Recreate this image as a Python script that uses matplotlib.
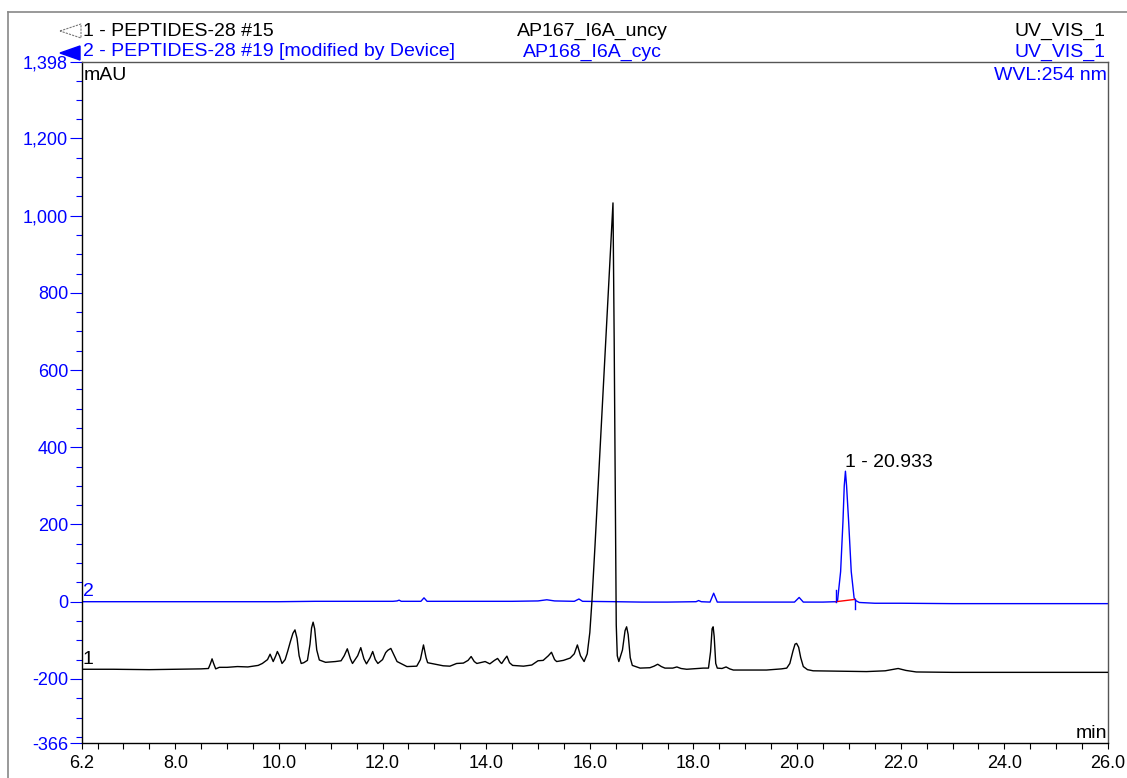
import matplotlib.pyplot as plt
from matplotlib.lines import Line2D
from matplotlib.patches import Polygon
from matplotlib.ticker import FixedLocator, MultipleLocator

plt.rcParams['font.family'] = ['Liberation Sans', 'DejaVu Sans']

# trace 1: AP167_I6A_uncy, retention time (min) / absorbance (mAU)
t_uncy = [6.2, 6.8, 7.5, 8.0, 8.5, 8.64, 8.68, 8.71, 8.74, 8.78, 8.85, 9.0, 9.2, 9.4,
          9.6, 9.68, 9.78, 9.83, 9.89, 9.94, 9.97, 10.01, 10.06, 10.12, 10.17, 10.22,
          10.27, 10.31, 10.35, 10.39, 10.43, 10.48, 10.55, 10.60, 10.63, 10.66, 10.69,
          10.73, 10.78, 10.9, 11.09, 11.2, 11.26, 11.32, 11.38, 11.42, 11.52, 11.58,
          11.64, 11.69, 11.76, 11.81, 11.86, 11.91, 12.0, 12.06, 12.1, 12.16, 12.22,
          12.28, 12.47, 12.66, 12.73, 12.79, 12.84, 12.87, 12.98, 13.17, 13.3, 13.43,
          13.56, 13.65, 13.71, 13.77, 13.82, 13.98, 14.07, 14.16, 14.22, 14.28, 14.30,
          14.35, 14.40, 14.45, 14.51, 14.72, 14.88, 15.0, 15.1, 15.2, 15.26, 15.32,
          15.36, 15.49, 15.62, 15.70, 15.76, 15.82, 15.89, 15.95, 16.00, 16.04, 16.10,
          16.20, 16.30, 16.40, 16.447, 16.47, 16.49, 16.51, 16.53, 16.56, 16.63, 16.68,
          16.71, 16.74, 16.78, 16.82, 16.97, 17.16, 17.24, 17.31, 17.38, 17.45, 17.6,
          17.68, 17.76, 17.87, 18.19, 18.29, 18.33, 18.36, 18.38, 18.40, 18.43, 18.46,
          18.55, 18.63, 18.70, 18.77, 19.41, 19.70, 19.80, 19.86, 19.92, 19.96, 19.99,
          20.03, 20.07, 20.12, 20.2, 20.31, 20.8, 21.34, 21.7, 21.86, 21.95, 22.1,
          22.3, 23.0, 24.0, 25.0, 26.0]
mau_uncy = [-175, -175, -176, -175, -174, -173, -160, -148, -160, -174, -170, -170, -168, -169,
            -165, -160, -150, -136, -155, -140, -129, -140, -160, -150, -128, -104,
            -82, -73, -95, -140, -160, -158, -152, -110, -68, -53, -70,
            -125, -151, -157, -155, -153, -140, -122, -148, -160, -140, -119,
            -148, -161, -145, -129, -150, -160, -150, -132, -126, -121, -138,
            -155, -168, -167, -150, -112, -145, -158, -161, -166, -167, -160,
            -159, -152, -142, -155, -160, -155, -161, -152, -147, -158, -160,
            -150, -141, -158, -165, -167, -164, -153, -152, -140, -131, -150,
            -155, -152, -146, -135, -112, -140, -155, -135, -80, 0, 145,
            400, 660, 915, 1033, 680, 300, -60, -140, -155, -125, -75,
            -65, -85, -145, -165, -172, -171, -167, -162, -168, -172, -172,
            -169, -173, -175, -172, -172, -130, -70, -65, -90, -160, -172,
            -173, -169, -174, -177, -177, -174, -172, -160, -128, -110, -108,
            -118, -145, -168, -176, -179, -180, -181, -179, -175, -173, -178,
            -182, -183, -183, -183, -183]

# trace 2: AP168_I6A_cyc
t_cyc = [6.2, 8.0, 10.0, 10.7, 11.5, 12.2, 12.28, 12.32, 12.36, 12.5, 12.74, 12.8, 12.86,
         13.5, 14.0, 14.5, 15.0, 15.17, 15.32, 15.7, 15.79, 15.86, 16.5, 17.0, 17.5,
         18.05, 18.10, 18.15, 18.32, 18.39, 18.46, 19.0, 19.5, 19.95, 20.04, 20.12,
         20.5, 20.75, 20.78, 20.84, 20.885, 20.91, 20.933, 20.955, 20.995, 21.045,
         21.10, 21.13, 21.2, 21.5, 22.0, 23.0, 24.0, 26.0]
mau_cyc = [0, 0, 0, 1, 1, 1, 2, 4, 1, 1, 1, 10, 1,
           1, 1, 1, 2, 5, 2, 1, 7, 1, 0, -1, -1,
           0, 3, 0, -1, 22, -1, -1, -1, -1, 11, -1,
           -1, 0, 2, 78, 207, 300, 338, 300, 207, 78,
           10, 3, -2, -4, -4, -5, -5, -5]

# integrated peak of trace 2
peak_label = '1 - 20.933'
peak_rt = 20.933
peak_mau = 338
base_t = [20.75, 21.12]
base_mau = [0, 6]
delim_mau = [30, -20]

x_major = [6.2, 8.0, 10.0, 12.0, 14.0, 16.0, 18.0, 20.0, 22.0, 24.0, 26.0]
y_major = [-366, -200, 0, 200, 400, 600, 800, 1000, 1200, 1398]

W, H = 1127, 778
BLUE = '#0000ff'
FS = 14


def px(x, y):
    return x / W, 1 - y / H


fig = plt.figure(figsize=(W / 100, H / 100), dpi=100)
ax = fig.add_axes([82 / W, 35 / H, 1026 / W, 681 / H])

ax.plot(t_cyc, mau_cyc, color=BLUE, lw=1.0, zorder=2)
ax.plot(t_uncy, mau_uncy, color='black', lw=1.0, zorder=3)
ax.plot(base_t, base_mau, color='red', lw=1.0, zorder=4)
ax.plot([base_t[0]] * 2, [base_mau[0], delim_mau[0]], color=BLUE, lw=1.0, zorder=4)
ax.plot([base_t[1]] * 2, [base_mau[1], delim_mau[1]], color=BLUE, lw=1.0, zorder=4)
ax.text(peak_rt, peak_mau + 22, peak_label, ha='left', va='center', fontsize=FS)

ax.set_xlim(6.2, 26.0)
ax.set_ylim(-366, 1398)

ax.xaxis.set_major_locator(FixedLocator(x_major))
ax.xaxis.set_minor_locator(MultipleLocator(0.5))
ax.set_xticklabels([f'{v:.1f}' for v in x_major])
ax.yaxis.set_major_locator(FixedLocator(y_major))
ax.yaxis.set_minor_locator(MultipleLocator(50))
ax.set_yticklabels([f'{v:,}' for v in y_major])

ax.tick_params(axis='x', which='both', direction='out', length=4, width=0.8,
               labelsize=13, pad=5)
ax.tick_params(axis='y', which='major', direction='out', length=9, width=0.8,
               colors=BLUE, labelsize=13, pad=1)
ax.tick_params(axis='y', which='minor', direction='out', length=4, width=0.8,
               colors=BLUE)

for side in ['left', 'bottom']:
    ax.spines[side].set_color('black')
for side in ['top', 'right']:
    ax.spines[side].set_color('#555555')
for s in ax.spines.values():
    s.set_linewidth(1.0)

# page frame
fig.add_artist(Line2D([8 / W, 1], [1 - 12 / H] * 2, color='#888888', lw=1.2))
fig.add_artist(Line2D([8 / W] * 2, [0, 1 - 12 / H], color='#888888', lw=1.2))

# header rows
fig.add_artist(Polygon([px(60, 31), px(81, 24), px(81, 38)], closed=True, fill=False,
                       ec='#777777', lw=0.8, ls=(0, (2, 1)), transform=fig.transFigure))
fig.add_artist(Polygon([px(60, 53), px(80, 46), px(80, 60)], closed=True,
                       fc=BLUE, ec=BLUE, transform=fig.transFigure))

fig.text(*px(83, 31), '1 - PEPTIDES-28 #15', ha='left', va='center', fontsize=FS)
fig.text(*px(592, 31), 'AP167_I6A_uncy', ha='center', va='center', fontsize=FS)
fig.text(*px(1105, 31), 'UV_VIS_1', ha='right', va='center', fontsize=FS)
fig.text(*px(83, 52), '2 - PEPTIDES-28 #19 [modified by Device]', ha='left',
         va='center', fontsize=FS, color=BLUE)
fig.text(*px(592, 52), 'AP168_I6A_cyc', ha='center', va='center', fontsize=FS, color=BLUE)
fig.text(*px(1105, 52), 'UV_VIS_1', ha='right', va='center', fontsize=FS, color=BLUE)

fig.text(*px(84, 75), 'mAU', ha='left', va='center', fontsize=FS)
fig.text(*px(1107, 75), 'WVL:254 nm', ha='right', va='center', fontsize=FS, color=BLUE)
fig.text(*px(1107, 733), 'min', ha='right', va='center', fontsize=FS)
fig.text(*px(83, 591), '2', ha='left', va='center', fontsize=FS, color=BLUE)
fig.text(*px(83, 659), '1', ha='left', va='center', fontsize=FS)

fig.savefig('out.png', dpi=100)
